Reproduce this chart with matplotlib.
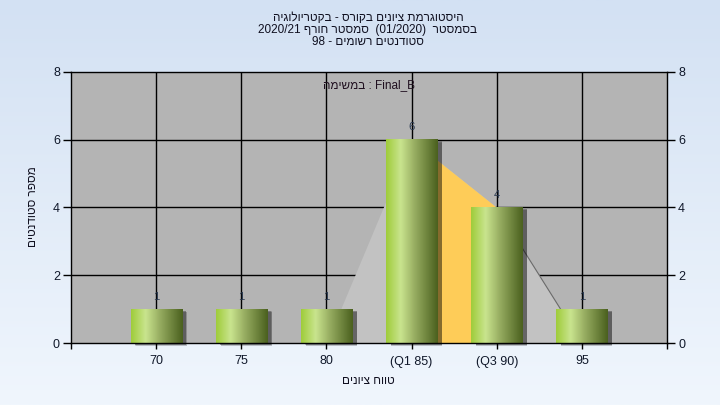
import re
import numpy as np
import matplotlib
matplotlib.use("Agg")
import matplotlib.pyplot as plt
from matplotlib.patches import Rectangle
from matplotlib.colors import LinearSegmentedColormap
import matplotlib.transforms as mtransforms

plt.rcParams['font.family'] = ['Liberation Sans', 'DejaVu Sans']

# data
categories = ["70", "75", "80", "(Q1 85)", "(Q3 90)", "95"]
counts = [1, 1, 1, 6, 4, 1]
area_vals = [0, 0, 0, 6, 4, 0]   # background area behind the bars
q1_idx, q3_idx = 3, 4

title_lines = ["היסטוגרמת ציונים בקורס - בקטריולוגיה",
               "בסמסטר  (01/2020)  סמסטר חורף 2020/21",
               "סטודנטים רשומים - 98"]
task_label = "Final_B : במשימה"
x_title = "טווח ציונים"
y_title = "מספר סטודנטים"


def heb(s):  # matplotlib has no bidi, so put the rtl text in visual order
    r = s[::-1]
    return re.sub(r'[0-9A-Za-z_/.()]+', lambda m: m.group(0)[::-1], r)


fig = plt.figure(figsize=(7.2, 4.05), dpi=100)

# page gradient
bg = fig.add_axes([0, 0, 1, 1], zorder=-10)
bg_cmap = LinearSegmentedColormap.from_list("bg", ["#D3E1F3", "#F0F6FD"])
bg.imshow(np.linspace(0, 1, 256).reshape(-1, 1), cmap=bg_cmap, aspect='auto',
          extent=(0, 1, 0, 1))
bg.axis('off')

ax = fig.add_axes([71 / 720, 1 - 343 / 405, 596 / 720, 271 / 405])
ax.set_facecolor("#B4B4B4")
ax.set_xlim(-1, 6)
ax.set_ylim(0, 8)

x = np.arange(len(categories))

# grid
for i in x:
    ax.axvline(i, color='black', lw=1, zorder=1)
for yv in [2, 4, 6]:
    ax.axhline(yv, color='black', lw=1, zorder=1)

# area behind bars
ax.fill_between(x, area_vals, color="#C2C2C2", lw=0, zorder=2)
ax.fill_between(x[q1_idx:q3_idx + 1], area_vals[q1_idx:q3_idx + 1],
                color="#FECC58", lw=0, zorder=2)
ax.plot(x[q3_idx:q3_idx + 2], area_vals[q3_idx:q3_idx + 2], color="#6A6A6A",
        lw=0.8, zorder=2)

# bars with gradient and a soft shadow
bar_cmap = LinearSegmentedColormap.from_list(
    "bar", [(0, "#9FCC3A"), (0.28, "#C9E48E"), (0.55, "#98AE62"), (1, "#4A601E")])
grad = np.linspace(0, 1, 128).reshape(1, -1)
w = 0.6
for i, v in zip(x, counts):
    for k, a in enumerate([0.10, 0.12, 0.16, 0.2]):
        off = mtransforms.offset_copy(ax.transData, fig=fig, x=5 - k, y=-3 + k * 0.5,
                                      units='dots')
        ax.add_patch(Rectangle((i - w / 2 + 0.01 * k, 0), w, v, transform=off,
                               color='black', alpha=a, lw=0, zorder=3,
                               clip_on=False))
    ax.imshow(grad, cmap=bar_cmap, aspect='auto', extent=(i - w / 2, i + w / 2, 0, v),
              zorder=4, interpolation='bilinear')
    ax.annotate(str(v), (i, v), xytext=(0, 9), textcoords='offset points',
                ha='center', va='center', fontsize=8, color="#283850", zorder=5)

ax.set_xlim(-1, 6)
ax.set_ylim(0, 8)

ax.set_xticks(np.arange(-1, 7))
ax.set_xticklabels([""] + categories + [""])
ax.set_yticks([0, 2, 4, 6, 8])
ax.tick_params(axis='x', length=4, width=1, color='black', labelsize=9,
               labelcolor="#10182A", pad=5)
ax.tick_params(axis='y', length=6, width=1, color='black', labelsize=9,
               labelcolor="#10182A", right=True, labelright=True, pad=2)
for sp in ax.spines.values():
    sp.set_color('black')
    sp.set_linewidth(1)
    sp.set_zorder(6)

ax.text(0.5, 0.95, heb(task_label), transform=ax.transAxes, ha='center',
        va='center', fontsize=8.5, color="#201020", zorder=6)

fig.text(368 / 720, 1 - 30 / 405, "\n".join(heb(t) for t in title_lines),
         ha='center', va='center', fontsize=8.5, linespacing=1.0, color="#101020")
fig.text(368 / 720, 1 - 381 / 405, heb(x_title), ha='center', va='center',
         fontsize=8.5, color="#101020")
fig.text(33 / 720, 1 - 207 / 405, heb(y_title), ha='center', va='center',
         rotation=90, fontsize=8.5, color="#101020")

fig.savefig("out.png", dpi=100)
